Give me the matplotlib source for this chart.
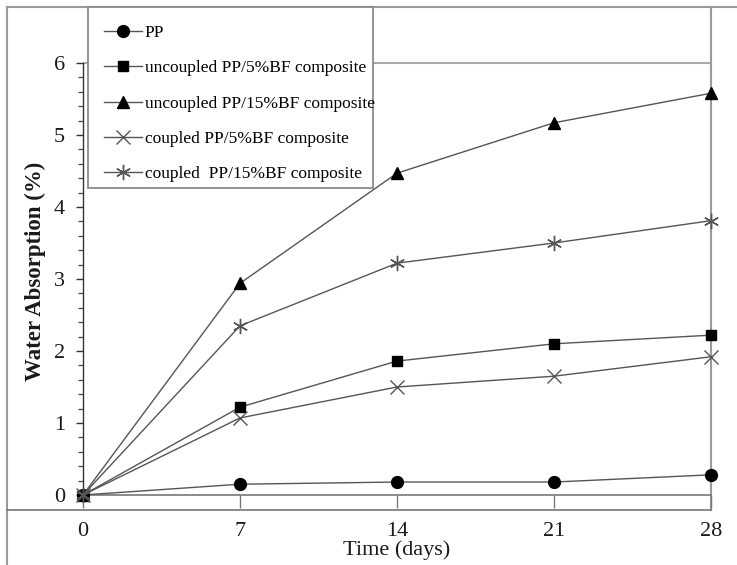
import numpy as np
import matplotlib
matplotlib.use("Agg")
import matplotlib.pyplot as plt
from matplotlib.lines import Line2D
from matplotlib.patches import Rectangle

# ---------- data ----------
days = [0, 7, 14, 21, 28]
pp = [0.0, 0.15, 0.18, 0.18, 0.28]
unc_5 = [0.0, 1.22, 1.86, 2.10, 2.22]
unc_15 = [0.0, 2.94, 4.47, 5.17, 5.58]
cpl_5 = [0.0, 1.07, 1.50, 1.65, 1.92]
cpl_15 = [0.0, 2.35, 3.22, 3.50, 3.81]

labels = [
    "PP",
    "uncoupled PP/5%BF composite",
    "uncoupled PP/15%BF composite",
    "coupled PP/5%BF composite",
    "coupled  PP/15%BF composite",
]
y_ticks = [0, 1, 2, 3, 4, 5, 6]

plt.rcParams["font.family"] = ["Liberation Serif", "DejaVu Serif"]

W, H = 737, 565
fig = plt.figure(figsize=(W / 100, H / 100), dpi=100)
# axes box in pixels: x 83..711, y 7..495 (top..bottom)
ax = fig.add_axes([83 / W, (H - 495) / H, (711 - 83) / W, (495 - 7) / H])
ax.patch.set_visible(False)

LINE = "#555555"
FRAME = "#9a9a9a"

styles = [
    dict(marker="o", ms=8.5, mfc="black", mec="black"),
    dict(marker="s", ms=7.5, mfc="black", mec="black"),
    dict(marker="^", ms=8.5, mfc="black", mec="black"),
    dict(marker="x", ms=10, mec="#555555", mew=1.0),
    dict(marker=(6, 2, 0), ms=11, mec="#555555", mew=1.0),
]
series = [pp, unc_5, unc_15, cpl_5, cpl_15]
handles = []
for vals, st, lab in zip(series, styles, labels):
    h, = ax.plot(days, vals, color=LINE, lw=1.0, clip_on=False,
                 zorder=3, label=lab, **st)
    handles.append(h)

ax.set_xlim(0, 28)
ax.set_ylim(0, (495 - 7) / 72)

# grid line at 6
ax.axhline(6, color="#aaaaaa", lw=1.5, zorder=1)

for s in ("top", "right"):
    ax.spines[s].set_visible(False)
ax.spines["left"].set_bounds(0, 6)
ax.spines["left"].set_color("#333333")
ax.spines["left"].set_linewidth(1.0)
ax.spines["bottom"].set_color("#777777")
ax.spines["bottom"].set_linewidth(1.2)

ax.set_yticks(y_ticks)
ax.set_yticks(np.arange(0, 6.01, 0.2), minor=True)
ax.set_xticks(days)
ax.tick_params(axis="y", which="major", direction="out", length=5,
               width=1.0, color="#333333", labelsize=16, pad=8,
               labelcolor="#1a1a1a")
ax.tick_params(axis="y", which="minor", direction="out", length=3.5,
               width=0.9, color="#444444")
ax.tick_params(axis="x", direction="out", length=9.4, width=1.0,
               color="#777777", labelsize=16, pad=10, labelcolor="#1a1a1a")

ax.set_ylabel("Water Absorption (%)", fontsize=16.5, fontweight="bold",
              va="center", color="#1a1a1a")
ax.yaxis.set_label_coords((35 - 83) / 628, (495 - 271) / 488)
ax.set_xlabel("Time (days)", fontsize=16, va="center", color="#1a1a1a")
ax.xaxis.set_label_coords((397 - 83) / 628, (495 - 550) / 488)

# outer frame lines (drawn below the axes so markers sit on top)
def fline(xs, ys, color=FRAME, lw=1.5):
    fig.add_artist(Line2D([x / W for x in xs], [1 - y / H for y in ys],
                          transform=fig.transFigure, color=color, lw=lw,
                          zorder=-1))

fline([7, 737], [7, 7])
fline([7, 7], [7, 565])
fline([711, 711], [7, 510])
fline([7, 711], [510, 510], color="#777777", lw=1.2)

# legend box
box = Rectangle((88 / W, 1 - 188 / H), (373 - 88) / W, (188 - 7) / H,
                transform=fig.transFigure, facecolor="white",
                edgecolor="#8a8a8a", lw=1.3, zorder=4, clip_on=False)
ax.add_artist(box)
leg = ax.legend(handles=handles, loc="upper left",
                bbox_to_anchor=(104 / W, 1 - 25 / H),
                bbox_transform=fig.transFigure, frameon=False,
                fontsize=12.5, borderpad=0, borderaxespad=0,
                handlelength=2.2, handletextpad=0.15, labelspacing=1.1)
leg.set_zorder(5)

fig.savefig("out.png", dpi=100)
